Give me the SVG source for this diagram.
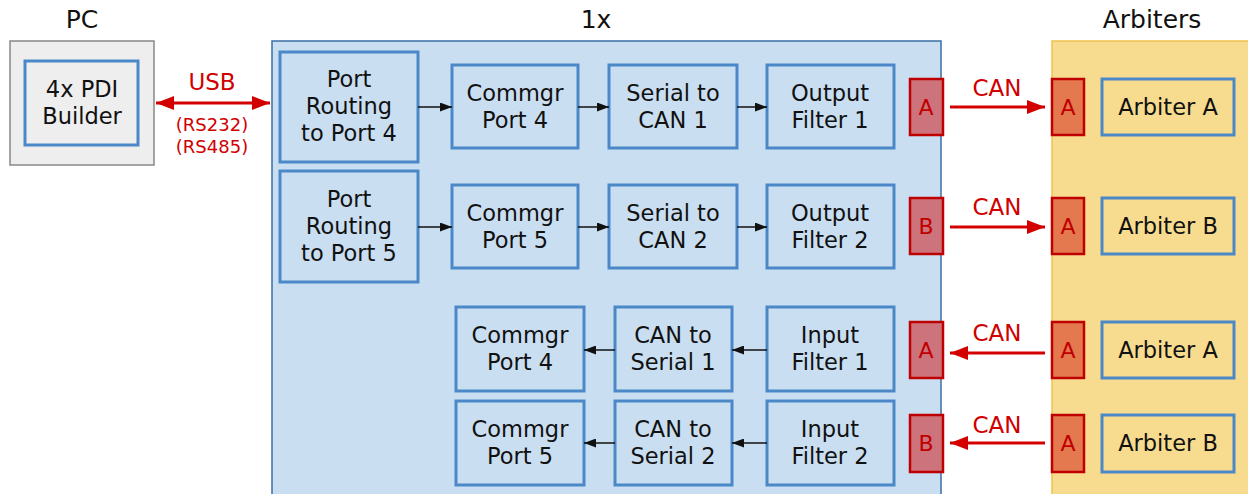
<svg xmlns="http://www.w3.org/2000/svg" width="1248" height="494" viewBox="0 0 1248 494">
<defs>
<style>
text{font-family:"DejaVu Sans","Verdana",sans-serif;text-anchor:middle}
.t{font-size:22.5px;fill:#111}
.h{font-size:25px;fill:#111}
.box{fill:none;stroke:#4a88c7;stroke-width:3}
.rl{font-size:23px;fill:#d00000}
.rs{font-size:18px;fill:#d00000}
.pl{font-size:22px;fill:#c00000}
.rp{fill:#cd737b;stroke:#c00000;stroke-width:2.5}
.op{fill:#e4784e;stroke:#c00000;stroke-width:2.5}
.bl{stroke:#111;stroke-width:1.5;fill:none}
.rd{stroke:#d40000;stroke-width:3;fill:none}
</style>
<marker id="ab" viewBox="0 0 12 9" refX="12" refY="4.5" markerWidth="12" markerHeight="9" markerUnits="userSpaceOnUse" orient="auto"><path d="M0,0L12,4.5L0,9z" fill="#111"/></marker>
<marker id="ar" viewBox="0 0 18 14" refX="18" refY="7" markerWidth="18" markerHeight="14" markerUnits="userSpaceOnUse" orient="auto-start-reverse"><path d="M0,0L18,7L0,14z" fill="#d40000"/></marker>
</defs>

<!-- titles -->
<text class="h" x="82" y="28">PC</text>
<text class="h" x="596" y="28">1x</text>
<text class="h" x="1152" y="28">Arbiters</text>

<!-- containers -->
<g id="pc">
<rect x="10" y="41" width="144" height="124" fill="#eeeeee" stroke="#888" stroke-width="1.5"/>
<g id="pdi-builder"><rect class="box" x="25" y="61" width="113" height="84"/>
<text class="t" x="82" y="97">4x PDI</text><text class="t" x="82" y="124">Builder</text></g>
</g>
<g id="unit">
<rect x="272" y="41" width="669" height="460" fill="#cadef2" stroke="#3b6fa8" stroke-width="1.5"/>
</g>
<g id="arbiters">
<rect x="1052" y="41" width="200" height="460" fill="#f7dc8f" stroke="#eec24e" stroke-width="1.5"/>
</g>

<!-- top rows -->
<g id="routing4"><rect class="box" x="280" y="52" width="138" height="110"/>
<text class="t" x="349" y="87">Port</text><text class="t" x="349" y="114">Routing</text><text class="t" x="349" y="141">to Port 4</text></g>
<g id="routing5"><rect class="box" x="280" y="171" width="138" height="111"/>
<text class="t" x="349" y="207">Port</text><text class="t" x="349" y="234">Routing</text><text class="t" x="349" y="261">to Port 5</text></g>
<g id="commgr4-out"><rect class="box" x="452" y="65" width="126" height="83"/>
<text class="t" x="515" y="101">Commgr</text><text class="t" x="515" y="128">Port 4</text></g>
<g id="commgr5-out"><rect class="box" x="452" y="185" width="126" height="83"/>
<text class="t" x="515" y="221">Commgr</text><text class="t" x="515" y="248">Port 5</text></g>
<g id="s2c1"><rect class="box" x="609" y="65" width="128" height="83"/>
<text class="t" x="673" y="101">Serial to</text><text class="t" x="673" y="128">CAN 1</text></g>
<g id="s2c2"><rect class="box" x="609" y="185" width="128" height="83"/>
<text class="t" x="673" y="221">Serial to</text><text class="t" x="673" y="248">CAN 2</text></g>
<g id="of1"><rect class="box" x="767" y="65" width="127" height="83"/>
<text class="t" x="830" y="101">Output</text><text class="t" x="830" y="128">Filter 1</text></g>
<g id="of2"><rect class="box" x="767" y="185" width="127" height="83"/>
<text class="t" x="830" y="221">Output</text><text class="t" x="830" y="248">Filter 2</text></g>

<!-- bottom rows -->
<g id="commgr4-in"><rect class="box" x="456" y="307" width="128" height="84"/>
<text class="t" x="520" y="343">Commgr</text><text class="t" x="520" y="370">Port 4</text></g>
<g id="commgr5-in"><rect class="box" x="456" y="401" width="128" height="84"/>
<text class="t" x="520" y="437">Commgr</text><text class="t" x="520" y="464">Port 5</text></g>
<g id="c2s1"><rect class="box" x="615" y="307" width="117" height="84"/>
<text class="t" x="673" y="343">CAN to</text><text class="t" x="673" y="370">Serial 1</text></g>
<g id="c2s2"><rect class="box" x="615" y="401" width="117" height="84"/>
<text class="t" x="673" y="437">CAN to</text><text class="t" x="673" y="464">Serial 2</text></g>
<g id="if1"><rect class="box" x="767" y="307" width="127" height="84"/>
<text class="t" x="830" y="343">Input</text><text class="t" x="830" y="370">Filter 1</text></g>
<g id="if2"><rect class="box" x="767" y="401" width="127" height="84"/>
<text class="t" x="830" y="437">Input</text><text class="t" x="830" y="464">Filter 2</text></g>

<!-- unit ports -->
<g id="port-out-a"><rect class="rp" x="910" y="79" width="33" height="56"/><text class="pl" x="926" y="115">A</text></g>
<g id="port-out-b"><rect class="rp" x="910" y="198" width="33" height="56"/><text class="pl" x="926" y="234">B</text></g>
<g id="port-in-a"><rect class="rp" x="910" y="322" width="33" height="56"/><text class="pl" x="926" y="358">A</text></g>
<g id="port-in-b"><rect class="rp" x="910" y="415" width="33" height="57"/><text class="pl" x="926" y="451">B</text></g>

<!-- arbiter ports -->
<g id="arb-port-1"><rect class="op" x="1052" y="79" width="32" height="56"/><text class="pl" x="1068" y="115">A</text></g>
<g id="arb-port-2"><rect class="op" x="1052" y="198" width="32" height="56"/><text class="pl" x="1068" y="234">A</text></g>
<g id="arb-port-3"><rect class="op" x="1052" y="322" width="32" height="56"/><text class="pl" x="1068" y="358">A</text></g>
<g id="arb-port-4"><rect class="op" x="1052" y="415" width="32" height="57"/><text class="pl" x="1068" y="451">A</text></g>

<g id="arbiter-a-1"><rect class="box" x="1102" y="79" width="132" height="56"/><text class="t" x="1168" y="115">Arbiter A</text></g>
<g id="arbiter-b-1"><rect class="box" x="1102" y="198" width="132" height="56"/><text class="t" x="1168" y="234">Arbiter B</text></g>
<g id="arbiter-a-2"><rect class="box" x="1102" y="322" width="132" height="56"/><text class="t" x="1168" y="358">Arbiter A</text></g>
<g id="arbiter-b-2"><rect class="box" x="1102" y="415" width="132" height="57"/><text class="t" x="1168" y="451">Arbiter B</text></g>

<!-- connectors -->
<g id="connectors">
<line class="rd" x1="156" y1="103" x2="270" y2="103" marker-start="url(#ar)" marker-end="url(#ar)"/>
<text class="rl" x="212" y="90">USB</text>
<text class="rs" x="212" y="131">(RS232)</text>
<text class="rs" x="212" y="153">(RS485)</text>

<line class="bl" x1="418" y1="107" x2="452" y2="107" marker-end="url(#ab)"/>
<line class="bl" x1="578" y1="107" x2="609" y2="107" marker-end="url(#ab)"/>
<line class="bl" x1="737" y1="107" x2="767" y2="107" marker-end="url(#ab)"/>
<line class="bl" x1="418" y1="227" x2="452" y2="227" marker-end="url(#ab)"/>
<line class="bl" x1="578" y1="227" x2="609" y2="227" marker-end="url(#ab)"/>
<line class="bl" x1="737" y1="227" x2="767" y2="227" marker-end="url(#ab)"/>

<line class="bl" x1="767" y1="350" x2="732" y2="350" marker-end="url(#ab)"/>
<line class="bl" x1="615" y1="350" x2="584" y2="350" marker-end="url(#ab)"/>
<line class="bl" x1="767" y1="443" x2="732" y2="443" marker-end="url(#ab)"/>
<line class="bl" x1="615" y1="443" x2="584" y2="443" marker-end="url(#ab)"/>

<line class="rd" x1="950" y1="107" x2="1045" y2="107" marker-end="url(#ar)"/>
<text class="rl" x="997" y="96">CAN</text>
<line class="rd" x1="950" y1="227" x2="1045" y2="227" marker-end="url(#ar)"/>
<text class="rl" x="997" y="215">CAN</text>
<line class="rd" x1="1045" y1="353" x2="950" y2="353" marker-end="url(#ar)"/>
<text class="rl" x="997" y="341">CAN</text>
<line class="rd" x1="1045" y1="443" x2="950" y2="443" marker-end="url(#ar)"/>
<text class="rl" x="997" y="433">CAN</text>
</g>
</svg>
